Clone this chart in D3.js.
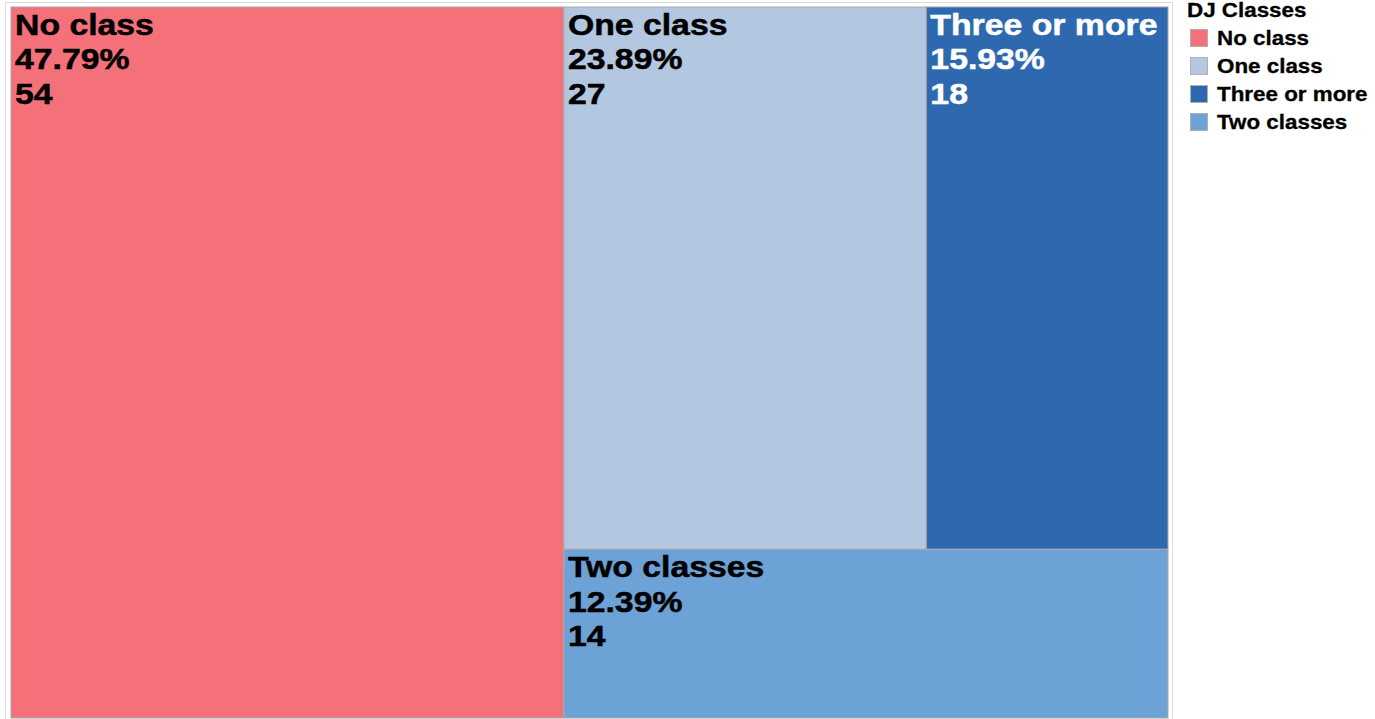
<!DOCTYPE html>
<html><head><meta charset="utf-8">
<script src="https://cdn.jsdelivr.net/npm/d3@7"></script>
<style>body{margin:0;background:#fff;} svg{display:block;}</style>
</head><body>
<svg id="c" width="1375" height="719"></svg>
<script>
const categories = ["No class", "One class", "Three or more", "Two classes"];
const counts = [54, 27, 18, 14];
const colors = ["#f4717a", "#b3c7e1", "#2e69b0", "#6ca2d5"];
const textColors = ["#000", "#000", "#fff", "#000"];
const legendTitle = "DJ Classes";

const svg = d3.select("#c");
const total = d3.sum(counts);
const font = "'Liberation Sans', Arial, Helvetica, sans-serif";

// outer frame
svg.append("rect").attr("x", 5.5).attr("y", 2.5).attr("width", 1167).attr("height", 730)
  .attr("fill", "none").attr("stroke", "#dcdcdc").attr("stroke-width", 1);

const data = {name: "root", children: categories.map((c, i) => ({name: c, value: counts[i], idx: i}))};
const root = d3.hierarchy(data).sum(d => d.value || 0);
d3.treemap().tile(d3.treemapSquarify).size([1157, 711])(root);

const g = svg.append("g").attr("transform", "translate(11,7)");
const color = d3.scaleOrdinal().domain(categories).range(colors);
const fmt = d3.format(".2%");

const cell = g.selectAll("g.cell").data(root.leaves()).join("g").attr("class", "cell")
  .attr("transform", d => `translate(${d.x0},${d.y0})`);
cell.append("rect")
  .attr("width", d => d.x1 - d.x0).attr("height", d => d.y1 - d.y0)
  .attr("fill", d => color(d.data.name)).attr("stroke", "#a9a9a9").attr("stroke-width", 1);
cell.each(function(d) {
  const lines = [d.data.name, fmt(d.data.value / total), String(d.data.value)];
  const tc = textColors[d.data.idx];
  const t = d3.select(this).append("g").attr("transform", "translate(4,0) scale(1.165,1)")
    .append("text").attr("font-family", font).attr("font-weight", "bold")
    .attr("font-size", 29).attr("fill", tc).attr("stroke", tc).attr("stroke-width", 0.5);
  lines.forEach((l, k) => t.append("tspan").attr("x", 0).attr("y", 28 + k * 34.5).text(l));
});

// legend
const lg = svg.append("g").attr("transform", "translate(1187,0)");
lg.append("g").attr("transform", "scale(1.12,1)")
  .append("text").attr("x", 0).attr("y", 17).attr("font-family", font).attr("font-weight", "bold")
  .attr("font-size", 20).attr("fill", "#000").attr("stroke", "#000").attr("stroke-width", 0.3).text(legendTitle);
const items = lg.selectAll("g.item").data(categories).join("g").attr("class", "item")
  .attr("transform", (d, i) => `translate(0,${38 + i * 28})`);
items.append("rect").attr("x", 3.5).attr("y", -8.5).attr("width", 17).attr("height", 17)
  .attr("fill", d => color(d)).attr("stroke", "#b0b0b0").attr("stroke-width", 1);
items.append("g").attr("transform", "translate(30,0) scale(1.12,1)")
  .append("text").attr("x", 0).attr("y", 7).attr("font-family", font).attr("font-weight", "bold")
  .attr("font-size", 20).attr("fill", "#000").attr("stroke", "#000").attr("stroke-width", 0.3).text(d => d);
</script>
</body></html>
